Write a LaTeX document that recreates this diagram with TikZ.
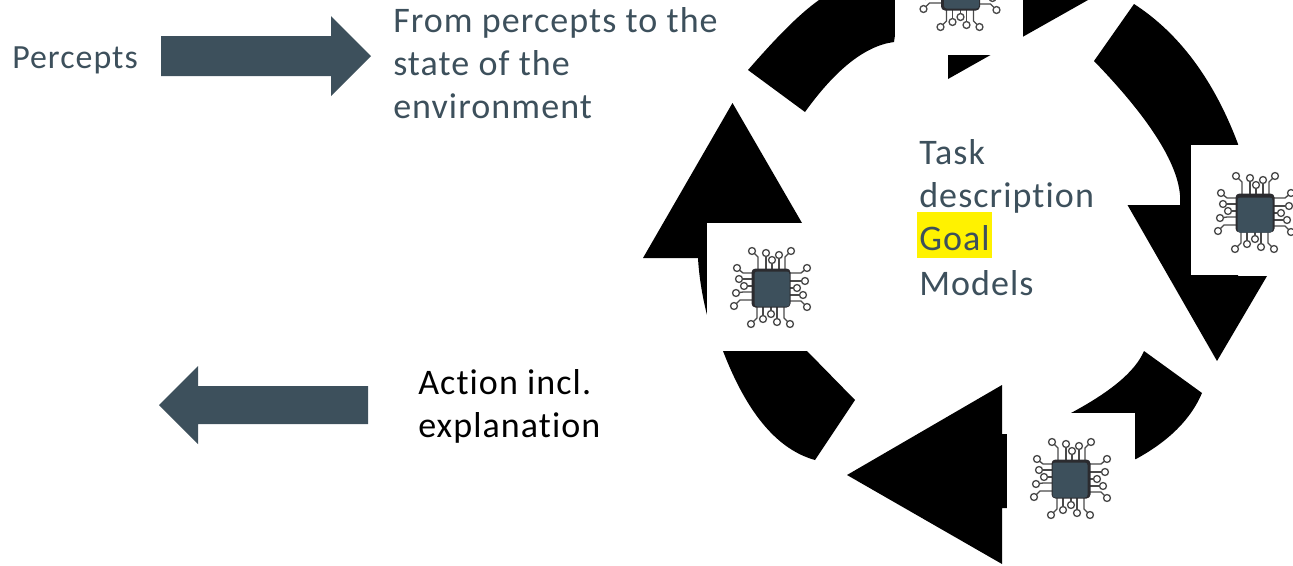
\documentclass[tikz,border=0pt]{standalone}
\usepackage{fontspec}
\setmainfont[LetterSpace=3,Ligatures=NoCommon]{Carlito}
\definecolor{slate}{HTML}{3D505C}
\definecolor{chipdark}{HTML}{2B2B2F}
\definecolor{pingrey}{HTML}{4A4A4A}
\tikzset{
    label/.style={inner sep=0pt,anchor=base west,text=slate,font=\fontsize{27}{32}\selectfont},
    para/.style={label,anchor=north west,align=left,font=\fontsize{27}{32.3}\selectfont},
    chipbox/.style={fill=white,draw=none},
    pin/.style={draw=pingrey,line width=1pt},
    pins/.style={draw=pingrey,line width=1pt,fill=white},
    pics/chip/.style 2 args={code={
        \foreach \cx/\cy/\kx/\ky/\fx/\fy in {
            -19/-37/-13/-31/-13/-18, -5/-35/-5/-35/-5/-18, 1/-28/1/-28/1/-18, 8/-33/8/-33/8/-18, 20/-37/14/-31/14/-18,
            36/-20/30/-15/18/-15, 34/-7/34/-7/18/-7, 26/0/26/0/18/0, 32/7/32/7/18/7, 36/19/30/13/18/13,
            -20/36/-14/30/-14/18, -8/31/-8/31/-8/18, 0/26/0/26/0/18, 6/34/6/34/6/18, 19/36/13/30/13/18,
            -34/-20/-28/-15/-18/-15, -32/-9/-32/-9/-18/-9, -27/-2/-27/-2/-18/-2, -35/5/-28/4/-18/4, -37/18/-31/12/-18/12}
        {
            \draw[pin] (\cx,\cy)--(\kx,\ky)--(\fx,\fy);
            \filldraw[pins] (\cx,\cy) circle (2.6pt);
        }
        \fill[chipdark,rounded corners=3pt] (-19.5,-19.5) rectangle (19.5,19.5);
        \fill[slate,rounded corners=2pt] (-17.5+#1,-17.5+#2) rectangle (17.5+#1,17.5+#2);
    }}
}

\begin{document}
\begin{tikzpicture}[x=0.75pt,y=-0.75pt]
\useasboundingbox (0,0) rectangle (1293,565);
\clip (0,0) rectangle (1293,565);

% left side
\fill[slate] (161,36)--(331,36)--(331,16)--(371,56)--(331,96)--(331,76)--(161,76)--cycle;
\fill[slate] (368,386)--(198,386)--(198,366)--(159,405)--(198,444)--(198,424)--(368,424)--cycle;
\node[label,font=\fontsize{25.4}{32}\selectfont] (percepts) at (12,68) {Percepts};
\node[para] (state) at (393,7) {From percepts to the\\state of the\\environment};
\node[para,text=black] (action) at (418,369) {Action incl.\\explanation};

% ring of arrows
\begin{scope}[black]
    \fill (819,0) .. controls (798,15) and (775,39) .. (748,70)--(805,112) .. controls (833,73) and (863,46) .. (894,42)--(900,0)--cycle;
    \fill (948,79)--(1088,0)--(948,0)--cycle;
    \fill (1134,4) .. controls (1179,33) and (1214,80) .. (1238,144)--(1238,276)--(1267,276)--(1217,361)--(1127.5,205)--(1180,205) .. controls (1183,172) and (1155,124) .. (1094,61)--cycle;
    \fill (1144,351)--(1202,393) .. controls (1191,419) and (1169,441) .. (1136,459)--(1100,459)--(1071,413) .. controls (1110,392) and (1135,372) .. (1144,351)--cycle;
    \fill (1002,385)--(847,475)--(1002,564)--(1002,508)--(1010,508)--(1010,434)--(1002,434)--cycle;
    \fill (723,351)--(807,351)--(855,400)--(815,460) .. controls (779,450) and (748,416) .. (723,351)--cycle;
    \fill (643,258)--(732.5,103)--(802,223)--(720,300)--(707,315) .. controls (702,295) and (699,276) .. (698,258)--cycle;
\end{scope}

% chips on white squares
\fill[chipbox] (895,0) rectangle (1023,55);
\fill[chipbox] (1191,145) rectangle (1293,275);
\fill[chipbox] (1007,413) rectangle (1135,565);
\fill[chipbox] (707,223) rectangle (837,351);
\pic at (960.5,-9) {chip={1}{0}};
\pic at (1255,213) {chip={0}{2}};
\pic at (1071,479) {chip={-1}{1}};
\pic at (771,288) {chip={1}{1}};

% centre text
\node[label] (task) at (919,164) {Task};
\node[label] (description) at (919,207) {description};
\node[label,fill=yellow,text height=28.5pt,text depth=6pt,inner xsep=1.5pt] (goal) at (917,250) {Goal};
\node[label] (models) at (919,295) {Models};
\end{tikzpicture}
\end{document}
